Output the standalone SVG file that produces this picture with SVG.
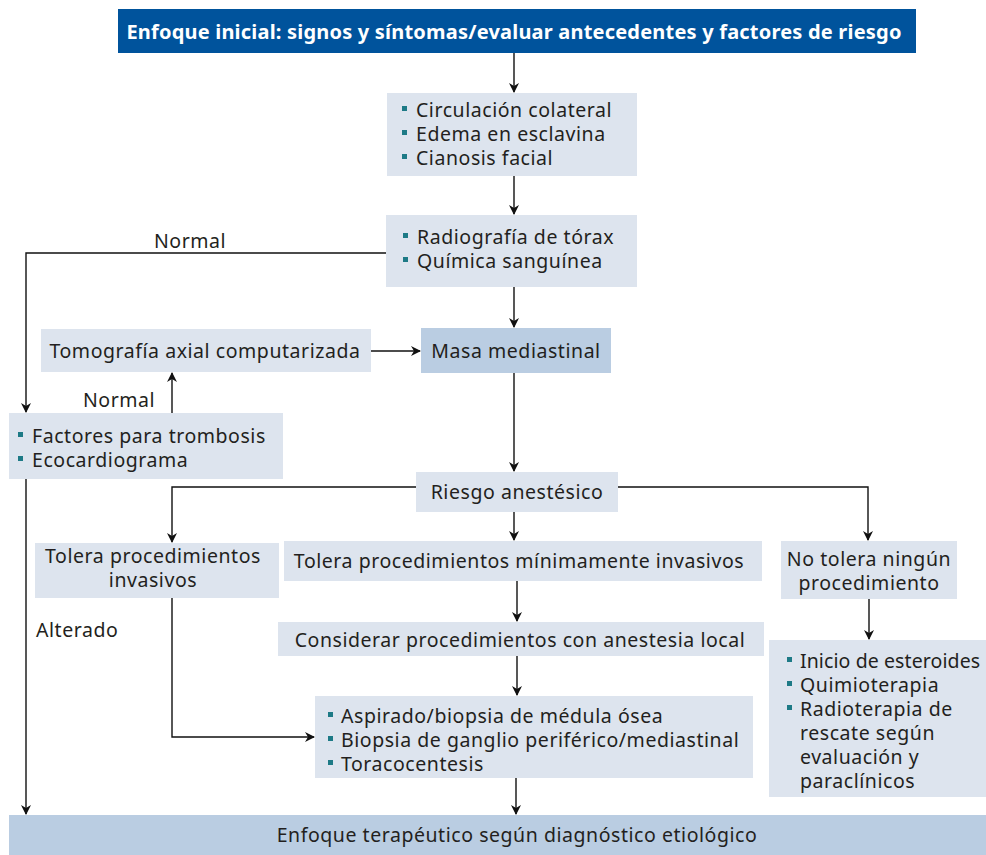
<svg xmlns="http://www.w3.org/2000/svg" width="986" height="855" viewBox="0 0 986 855">
<defs>
<marker id="ah" markerWidth="10" markerHeight="10" refX="9" refY="5" orient="auto" markerUnits="userSpaceOnUse">
<path d="M0,0 L10,5 L0,10 L3,5 Z" fill="#111"/>
</marker>
<style>
.t{font-family:"Noto Sans","Open Sans","Liberation Sans",sans-serif;font-size:19.5px;letter-spacing:0.55px;fill:#231f20}
.c{text-anchor:middle}
.nr{letter-spacing:0.1px}
.lt{fill:#dde4ee}
.md{fill:#bacde2}
.b{fill:#1d7a86}
.ln{fill:none;stroke:#111;stroke-width:1.4}
.hd{font-family:"Noto Sans","Open Sans","Liberation Sans",sans-serif;font-size:20px;letter-spacing:0.2px;font-weight:bold;fill:#fff;text-anchor:middle}
</style>
</defs>
<rect width="986" height="855" fill="#fff"/>
<g id="connectors">
<line class="ln" x1="514" y1="53" x2="514" y2="92" marker-end="url(#ah)"/>
<line class="ln" x1="514" y1="176" x2="514" y2="214" marker-end="url(#ah)"/>
<line class="ln" x1="514" y1="287" x2="514" y2="327" marker-end="url(#ah)"/>
<polyline class="ln" points="386,253 26,253 26,412" marker-end="url(#ah)"/>
<line class="ln" x1="172" y1="413" x2="172" y2="373" marker-end="url(#ah)"/>
<line class="ln" x1="371" y1="351" x2="420" y2="351" marker-end="url(#ah)"/>
<line class="ln" x1="514" y1="373" x2="514" y2="471" marker-end="url(#ah)"/>
<polyline class="ln" points="416,487 172,487 172,542" marker-end="url(#ah)"/>
<polyline class="ln" points="618,487 868,487 868,540" marker-end="url(#ah)"/>
<line class="ln" x1="514" y1="512" x2="514" y2="540" marker-end="url(#ah)"/>
<line class="ln" x1="26" y1="479" x2="26" y2="814" marker-end="url(#ah)"/>
<polyline class="ln" points="172,598 172,737 314,737" marker-end="url(#ah)"/>
<line class="ln" x1="517" y1="581" x2="517" y2="621" marker-end="url(#ah)"/>
<line class="ln" x1="517" y1="656" x2="517" y2="695" marker-end="url(#ah)"/>
<line class="ln" x1="516" y1="778" x2="516" y2="814" marker-end="url(#ah)"/>
<line class="ln" x1="869" y1="599" x2="869" y2="639" marker-end="url(#ah)"/>
<text class="t" x="154" y="248">Normal</text>
<text class="t" x="83" y="407">Normal</text>
<text class="t" x="36" y="637">Alterado</text>
</g>
<g id="n-inicial">
<rect x="118" y="9" width="798" height="44" fill="#00539c"/>
<text class="hd" x="514" y="39">Enfoque inicial: signos y síntomas/evaluar antecedentes y factores de riesgo</text>
</g>
<g id="n-signos">
<rect class="lt" x="387" y="93" width="250" height="83"/>
<rect class="b" x="402" y="106" width="5" height="5"/>
<rect class="b" x="402" y="130" width="5" height="5"/>
<rect class="b" x="402" y="154" width="5" height="5"/>
<text class="t" x="416" y="117">Circulación colateral</text>
<text class="t" x="416" y="141">Edema en esclavina</text>
<text class="t" x="416" y="165">Cianosis facial</text>
</g>
<g id="n-radiografia">
<rect class="lt" x="386" y="215" width="251" height="72"/>
<rect class="b" x="403" y="233" width="5" height="5"/>
<rect class="b" x="403" y="257" width="5" height="5"/>
<text class="t" x="417" y="244">Radiografía de tórax</text>
<text class="t" x="417" y="268">Química sanguínea</text>
</g>
<g id="n-masa">
<rect class="md" x="421" y="328" width="190" height="45"/>
<text class="t c" x="516" y="358">Masa mediastinal</text>
</g>
<g id="n-tomografia">
<rect class="lt" x="41" y="329" width="330" height="43"/>
<text class="t c" x="205" y="358">Tomografía axial computarizada</text>
</g>
<g id="n-factores">
<rect class="lt" x="9" y="413" width="274" height="66"/>
<rect class="b" x="18" y="432" width="5" height="5"/>
<rect class="b" x="18" y="456" width="5" height="5"/>
<text class="t" x="32" y="443">Factores para trombosis</text>
<text class="t" x="32" y="467">Ecocardiograma</text>
</g>
<g id="n-riesgo">
<rect class="lt" x="416" y="472" width="202" height="40"/>
<text class="t c" x="517" y="499">Riesgo anestésico</text>
</g>
<g id="n-invasivos">
<rect class="lt" x="35" y="543" width="244" height="55"/>
<text class="t c" x="153" y="563">Tolera procedimientos</text>
<text class="t c" x="153" y="587">invasivos</text>
</g>
<g id="n-minimo">
<rect class="lt" x="284" y="541" width="478" height="40"/>
<text class="t c" x="519" y="568">Tolera procedimientos mínimamente invasivos</text>
</g>
<g id="n-notolera">
<rect class="lt" x="781" y="541" width="176" height="58"/>
<text class="t c" x="869" y="566">No tolera ningún</text>
<text class="t c" x="869" y="590">procedimiento</text>
</g>
<g id="n-considerar">
<rect class="lt" x="278" y="622" width="486" height="34"/>
<text class="t c" x="520" y="647">Considerar procedimientos con anestesia local</text>
</g>
<g id="n-aspirado">
<rect class="lt" x="315" y="696" width="438" height="82"/>
<rect class="b" x="328" y="712" width="5" height="5"/>
<rect class="b" x="328" y="736" width="5" height="5"/>
<rect class="b" x="328" y="760" width="5" height="5"/>
<text class="t" x="341" y="723">Aspirado/biopsia de médula ósea</text>
<text class="t" x="341" y="747">Biopsia de ganglio periférico/mediastinal</text>
<text class="t" x="341" y="771">Toracocentesis</text>
</g>
<g id="n-esteroides">
<rect class="lt" x="769" y="640" width="217" height="157"/>
<rect class="b" x="787" y="657" width="5" height="5"/>
<rect class="b" x="787" y="681" width="5" height="5"/>
<rect class="b" x="787" y="705" width="5" height="5"/>
<text class="t nr" x="800" y="668">Inicio de esteroides</text>
<text class="t" x="800" y="692">Quimioterapia</text>
<text class="t" x="800" y="716">Radioterapia de</text>
<text class="t" x="800" y="740">rescate según</text>
<text class="t" x="800" y="764">evaluación y</text>
<text class="t" x="800" y="788">paraclínicos</text>
</g>
<g id="n-terapeutico">
<rect class="md" x="9" y="815" width="977" height="40"/>
<text class="t c" x="517" y="842">Enfoque terapéutico según diagnóstico etiológico</text>
</g>
</svg>
